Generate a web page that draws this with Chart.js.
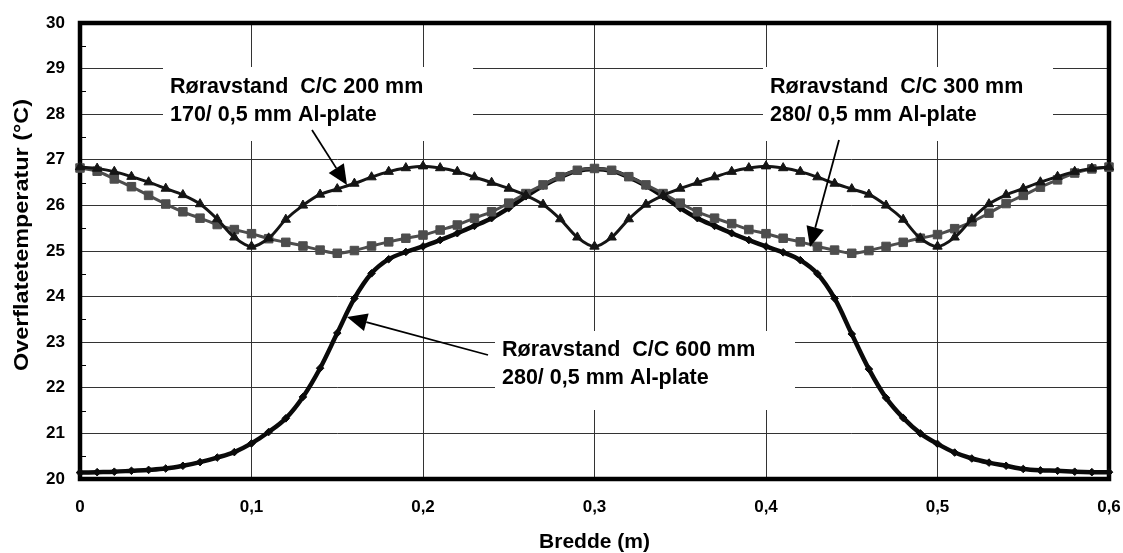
<!DOCTYPE html>
<html>
<head>
<meta charset="utf-8">
<title>Overflatetemperatur</title>
<script src="https://cdn.jsdelivr.net/npm/chart.js@4.4.1/dist/chart.umd.min.js"></script>
<style>
  html, body { margin: 0; padding: 0; background: #fff; }
  #wrap { position: relative; width: 1123px; height: 553px; }
</style>
</head>
<body>
<div id="wrap"><canvas id="tempChart"></canvas></div>
<script>
// Bredde (m), one point every 10 mm
const xValues = [
  0, 0.01, 0.02, 0.03, 0.04, 0.05, 0.06, 0.07, 0.08, 0.09,
  0.10, 0.11, 0.12, 0.13, 0.14, 0.15, 0.16, 0.17, 0.18, 0.19,
  0.20, 0.21, 0.22, 0.23, 0.24, 0.25, 0.26, 0.27, 0.28, 0.29,
  0.30, 0.31, 0.32, 0.33, 0.34, 0.35, 0.36, 0.37, 0.38, 0.39,
  0.40, 0.41, 0.42, 0.43, 0.44, 0.45, 0.46, 0.47, 0.48, 0.49,
  0.50, 0.51, 0.52, 0.53, 0.54, 0.55, 0.56, 0.57, 0.58, 0.59, 0.60
];

// Røravstand C/C 200 mm (triangles)
const cc200 = [
  26.84, 26.81, 26.74, 26.63, 26.51, 26.37, 26.23, 26.03, 25.70, 25.30,
  25.10, 25.28, 25.69, 26.00, 26.24, 26.36, 26.48, 26.62, 26.74, 26.82,
  26.86, 26.82, 26.74, 26.62, 26.50, 26.37, 26.22, 26.02, 25.70, 25.30,
  25.10, 25.30, 25.70, 26.02, 26.22, 26.37, 26.50, 26.62, 26.74, 26.82,
  26.86, 26.82, 26.74, 26.62, 26.48, 26.36, 26.24, 26.00, 25.69, 25.28,
  25.10, 25.30, 25.70, 26.03, 26.23, 26.37, 26.51, 26.63, 26.74, 26.81, 26.84
];

// Røravstand C/C 300 mm (grey squares)
const cc300 = [
  26.82, 26.75, 26.58, 26.41, 26.22, 26.03, 25.86, 25.72, 25.58, 25.47,
  25.38, 25.27, 25.19, 25.11, 25.02, 24.95, 25.01, 25.11, 25.20, 25.28,
  25.35, 25.46, 25.57, 25.72, 25.86, 26.05, 26.26, 26.45, 26.63, 26.77,
  26.81, 26.77, 26.63, 26.45, 26.26, 26.05, 25.86, 25.72, 25.60, 25.47,
  25.38, 25.28, 25.20, 25.10, 25.02, 24.95, 25.01, 25.10, 25.19, 25.28,
  25.36, 25.49, 25.64, 25.83, 26.04, 26.22, 26.40, 26.56, 26.71, 26.80, 26.84
];

// Røravstand C/C 600 mm (diamonds)
const cc600 = [
  20.14, 20.15, 20.16, 20.18, 20.20, 20.23, 20.29, 20.37, 20.47, 20.59,
  20.78, 21.03, 21.33, 21.80, 22.43, 23.20, 23.96, 24.51, 24.82, 24.98,
  25.10, 25.24, 25.39, 25.55, 25.72, 25.94, 26.20, 26.43, 26.62, 26.76,
  26.80, 26.76, 26.62, 26.43, 26.20, 25.94, 25.72, 25.55, 25.39, 25.24,
  25.10, 24.97, 24.80, 24.50, 23.96, 23.18, 22.41, 21.78, 21.34, 21.00,
  20.77, 20.58, 20.45, 20.36, 20.29, 20.22, 20.19, 20.18, 20.16, 20.15, 20.15
];

const xTickValues = [0, 0.1, 0.2, 0.3, 0.4, 0.5, 0.6];
const xTickLabels = ['0', '0,1', '0,2', '0,3', '0,4', '0,5', '0,6'];
const yTickValues = [20, 21, 22, 23, 24, 25, 26, 27, 28, 29, 30];
const yTickLabels = ['20', '21', '22', '23', '24', '25', '26', '27', '28', '29', '30'];

const label200 = ['Røravstand  C/C 200 mm', '170/ 0,5 mm Al-plate'];
const label300 = ['Røravstand  C/C 300 mm', '280/ 0,5 mm Al-plate'];
const label600 = ['Røravstand  C/C 600 mm', '280/ 0,5 mm Al-plate'];

const xTitle = 'Bredde (m)';
const yTitle = 'Overflatetemperatur (°C)';

function toPoints(ys) {
    return xValues.map((x, i) => ({ x: x, y: ys[i] }));
}

// text boxes and arrows, in canvas pixels
const callouts = [
    { lines: label200, box: [163, 67, 473, 141], textX: 170, baseY: 92.7,
      arrow: [312, 130, 347, 185] },
    { lines: label300, box: [763, 67, 1053, 141], textX: 770, baseY: 92.7,
      arrow: [839, 140, 810, 247] },
    { lines: label600, box: [495, 331, 795, 410], textX: 502, baseY: 356,
      arrow: [488, 355, 347, 317] }
];

function drawArrow(ctx, x1, y1, x2, y2) {
    const ang = Math.atan2(y2 - y1, x2 - x1);
    const len = 20, half = 9;
    const bx = x2 - Math.cos(ang) * len;
    const by = y2 - Math.sin(ang) * len;
    ctx.beginPath();
    ctx.moveTo(x1, y1);
    ctx.lineTo(bx, by);
    ctx.lineWidth = 1.8;
    ctx.strokeStyle = '#000';
    ctx.stroke();
    ctx.beginPath();
    ctx.moveTo(x2, y2);
    ctx.lineTo(bx - Math.sin(ang) * half, by + Math.cos(ang) * half);
    ctx.lineTo(bx + Math.sin(ang) * half, by - Math.cos(ang) * half);
    ctx.closePath();
    ctx.fillStyle = '#000';
    ctx.fill();
}

const decorPlugin = {
    id: 'decor',
    beforeDatasetsDraw(chart) {
        const { ctx, chartArea: a, scales } = chart;
        ctx.save();
        // white boxes behind the callout texts
        ctx.fillStyle = '#fff';
        callouts.forEach(c => {
            ctx.fillRect(c.box[0], c.box[1], c.box[2] - c.box[0], c.box[3] - c.box[1]);
        });
        // minor ticks on the y axis
        ctx.strokeStyle = '#000';
        ctx.lineWidth = 1;
        for (let i = 0; i < yTickValues.length - 1; i++) {
            const y = scales.y.getPixelForValue(yTickValues[i] + 0.5);
            ctx.beginPath();
            ctx.moveTo(a.left, Math.round(y) + 0.5);
            ctx.lineTo(a.left + 6, Math.round(y) + 0.5);
            ctx.stroke();
        }
        // heavy frame round the plot area
        ctx.lineWidth = 4.5;
        ctx.strokeRect(a.left, a.top, a.right - a.left, a.bottom - a.top);
        ctx.restore();
    },
    afterDatasetsDraw(chart) {
        const { ctx } = chart;
        ctx.save();
        ctx.fillStyle = '#000';
        ctx.font = 'bold 21.5px "Liberation Sans", Arial, sans-serif';
        ctx.textAlign = 'left';
        ctx.textBaseline = 'alphabetic';
        callouts.forEach(c => {
            c.lines.forEach((t, i) => ctx.fillText(t, c.textX, c.baseY + i * 28));
            drawArrow(ctx, c.arrow[0], c.arrow[1], c.arrow[2], c.arrow[3]);
        });
        // y axis title, slightly wide like the original print
        ctx.translate(22.5, 235);
        ctx.rotate(-Math.PI / 2);
        ctx.scale(1.17, 1);
        ctx.font = 'bold 20px "Liberation Sans", Arial, sans-serif';
        ctx.textAlign = 'center';
        ctx.textBaseline = 'middle';
        ctx.fillText(yTitle, 0, 0);
        ctx.restore();
    }
};

const tickFont = { family: '"Liberation Sans", Arial, sans-serif', size: 17, weight: 'bold' };

new Chart(document.getElementById('tempChart'), {
    type: 'line',
    data: {
        datasets: [{
            label: label200[0],
            data: toPoints(cc200),
            borderColor: '#151515',
            backgroundColor: '#151515',
            borderWidth: 3,
            pointStyle: 'triangle',
            pointRadius: 5.4,
            pointBorderWidth: 1,
            tension: 0.35,
            clip: false
        }, {
            label: label300[0],
            data: toPoints(cc300),
            borderColor: '#4d4d4d',
            backgroundColor: '#4d4d4d',
            borderWidth: 3,
            pointStyle: 'rect',
            pointRadius: 6,
            pointBorderWidth: 1,
            tension: 0.35,
            clip: false
        }, {
            label: label600[0],
            data: toPoints(cc600),
            borderColor: '#0a0a0a',
            backgroundColor: '#0a0a0a',
            borderWidth: 4.5,
            pointStyle: 'rectRot',
            pointRadius: 3.8,
            pointBorderWidth: 1,
            tension: 0.35,
            clip: false
        }]
    },
    options: {
        responsive: true,
        maintainAspectRatio: false,
        animation: false,
        layout: {
            padding: { left: 0, top: 23, right: 14, bottom: 0 }
        },
        plugins: {
            legend: { display: false },
            tooltip: { enabled: false }
        },
        scales: {
            x: {
                type: 'linear',
                min: 0,
                max: 0.6,
                afterBuildTicks: s => { s.ticks = xTickValues.map(v => ({ value: v })); },
                afterFit: s => { s.height = 74; s.paddingLeft = 0; s.paddingRight = 0; },
                ticks: {
                    color: '#000',
                    font: tickFont,
                    padding: 18,
                    maxRotation: 0,
                    callback: (v, i) => xTickLabels[i]
                },
                grid: { color: '#333', lineWidth: 1, drawTicks: false },
                border: { display: false },
                title: {
                    display: true,
                    text: xTitle,
                    color: '#000',
                    font: { family: '"Liberation Sans", Arial, sans-serif', size: 21, weight: 'bold', lineHeight: 1 },
                    padding: { top: 0, bottom: 0 }
                }
            },
            y: {
                type: 'linear',
                min: 20,
                max: 30,
                afterBuildTicks: s => { s.ticks = yTickValues.map(v => ({ value: v })); },
                afterFit: s => { s.width = 80; s.paddingTop = 0; s.paddingBottom = 0; },
                ticks: {
                    color: '#000',
                    font: tickFont,
                    padding: 15,
                    callback: (v, i) => yTickLabels[i]
                },
                grid: { color: '#333', lineWidth: 1, drawTicks: false },
                border: { display: false }
            }
        }
    },
    plugins: [decorPlugin]
});
</script>
</body>
</html>
